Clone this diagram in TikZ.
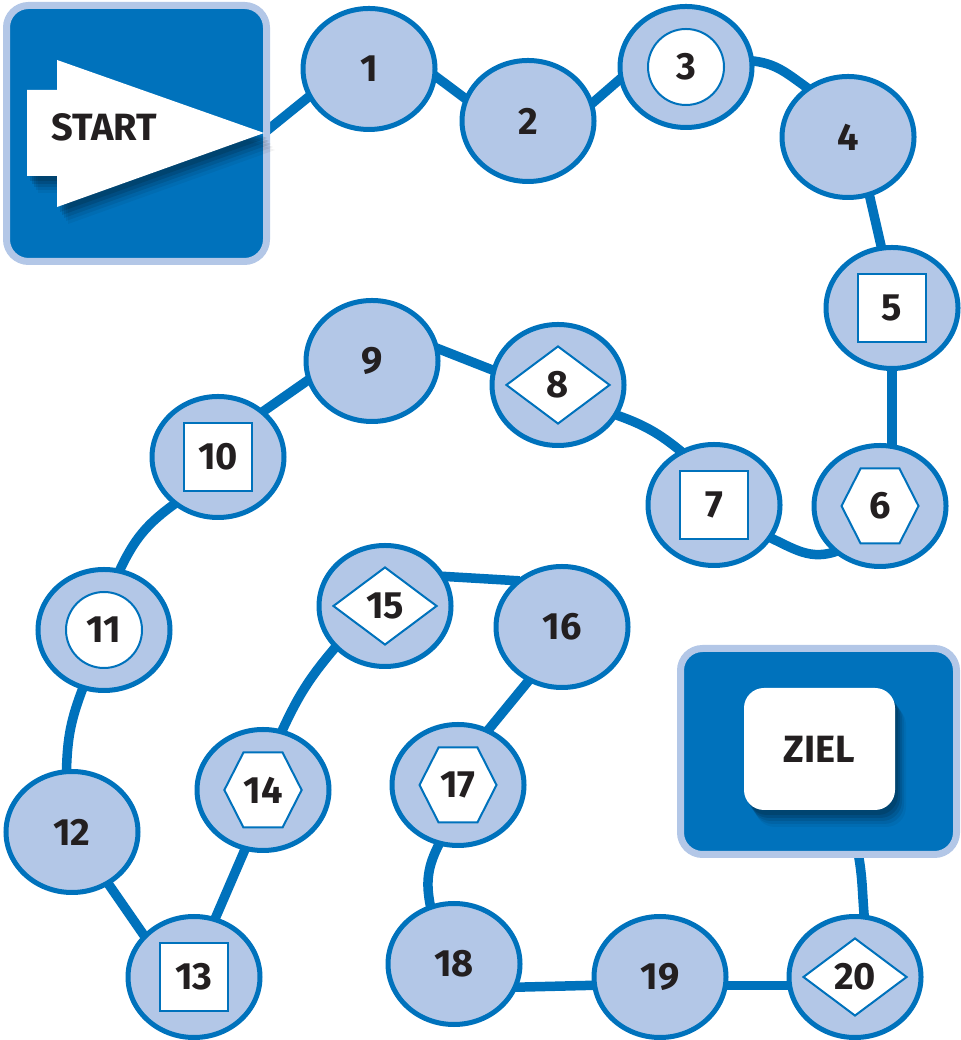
\documentclass[tikz,border=0pt]{standalone}
\usepackage{fontspec}
\setmainfont{Fira Sans}
\usepackage{tikz}
\usetikzlibrary{backgrounds,shapes.geometric,shapes.symbols,shadows}
\definecolor{boardblue}{RGB}{0,114,188}
\definecolor{fieldblue}{RGB}{179,199,231}
\definecolor{numdark}{RGB}{35,31,32}
\tikzset{
  track/.style={draw=boardblue, line width=9.5pt,
                shorten <=-4pt, shorten >=-4pt},
  field/.style={ellipse, draw=boardblue, line width=5pt, fill=fieldblue,
                minimum width=132pt, minimum height=121pt, inner sep=0pt,
                font=\fontsize{38}{42}\selectfont\bfseries, text=numdark},
  num/.style={font=\fontsize{38}{42}\selectfont\bfseries, text=numdark},
  markbase/.style={num, draw=boardblue, line width=2pt, fill=white,
                   inner sep=0pt},
  markcircle/.style={markbase, circle, minimum size=76pt},
  marksquare/.style={markbase, rectangle, minimum size=68pt},
  markhex/.style={markbase, signal, signal to=west and east,
                  signal pointer angle=126,
                  minimum width=77pt, minimum height=75pt},
  markdiamond/.style={markbase, diamond, aspect=1.33,
                      minimum width=104pt, minimum height=78pt},
  board/.style={draw=fieldblue, line width=7pt, fill=boardblue,
                rounded corners=22pt},
  softshadow/.style={
    drop shadow={shadow xshift=3pt, shadow yshift=-5pt, fill=black, opacity=0.12},
    drop shadow={shadow xshift=5pt, shadow yshift=-8pt, fill=black, opacity=0.12},
    drop shadow={shadow xshift=7pt, shadow yshift=-11pt, fill=black, opacity=0.10},
    drop shadow={shadow xshift=9pt, shadow yshift=-14pt, fill=black, opacity=0.07},
    drop shadow={shadow xshift=11pt, shadow yshift=-17pt, fill=black, opacity=0.05}},
}

\begin{document}
\begin{tikzpicture}[x=1pt,y=1pt]
  \path[use as bounding box] (0,0) rectangle (960,1040);

  % start and goal
  \node[board, minimum width=260pt, minimum height=256pt] (startbox)
    at (136.5,906.5) {};
  \fill[white, softshadow] (27,950) -- (57,950) -- (57,980) -- (264,907)
    -- (57,833) -- (57,864) -- (27,864) -- cycle;
  \coordinate (starttip) at (264,907);
  \node[num] (starttext) at (104,913) {START};

  \node[board, minimum width=276pt, minimum height=206pt] (ziel)
    at (818.5,288.5) {};
  \node[num, fill=white, rounded corners=20pt, minimum width=151pt,
        minimum height=122pt, softshadow] (zielcard) at (819.5,291) {ZIEL};

  % the fields along the track
  \node[field] (f1) at (369,971) {1};
  \node[field] (f2) at (528,919) {2};
  \node[field] (f3) at (686,973) {};
  \node[markcircle] (m3) at (f3) {3};
  \node[field] (f4) at (848,903) {4};
  \node[field] (f5) at (892,732) {};
  \node[marksquare] (m5) at (f5) {5};
  \node[field] (f6) at (880,534) {};
  \node[markhex] (m6) at (f6) {6};
  \node[field] (f7) at (714,535) {};
  \node[marksquare] (m7) at (f7) {7};
  \node[field] (f8) at (558,655) {};
  \node[markdiamond] (m8) at (f8) {8};
  \node[field] (f9) at (372,679) {9};
  \node[field] (f10) at (218,583) {};
  \node[marksquare] (m10) at (f10) {10};
  \node[field] (f11) at (104,410) {};
  \node[markcircle] (m11) at (f11) {11};
  \node[field] (f12) at (72,208) {12};
  \node[field] (f13) at (194,63) {};
  \node[marksquare] (m13) at (f13) {13};
  \node[field] (f14) at (263,250) {};
  \node[markhex] (m14) at (f14) {14};
  \node[field] (f15) at (385,434) {};
  \node[markdiamond] (m15) at (f15) {15};
  \node[field] (f16) at (562,413) {16};
  \node[field] (f17) at (458,255) {};
  \node[markhex] (m17) at (f17) {17};
  \node[field] (f18) at (454,76) {18};
  \node[field] (f19) at (660,63) {19};
  \node[field] (f20) at (855,63) {};
  \node[markdiamond] (m20) at (f20) {20};

  % track behind the fields
  \begin{pgfonlayer}{background}
    \draw[track] (starttip) -- (f1.205);
    \draw[track] (f1.-7) -- (f2.160);
    \draw[track] (f2.16) -- (f3.191);
    \draw[track] (f3.5) to[out=-5,in=145] (f4.130);
    \draw[track] (f4.-70) -- (f5.100);
    \draw[track] (f5.south) -- (f5.south |- f6.north);
    \draw[track] (f6.225) to[out=200,in=-25] (f7.-30);
    \draw[track] (f7.122) to[bend right=10] (f8.-27);
    \draw[track] (f8.167) -- (f9.10);
    \draw[track] (f9.197) -- (f10.45);
    \draw[track] (f10.227) to[bend right=15] (f11.75);
    \draw[track] (f11.250) to[bend right=10] (f12.95);
    \draw[track] (f12.-55) -- (f13.140);
    \draw[track] (f13.70) -- (f14.253);
    \draw[track] (f14.72) to[bend left=8] (f15.220);
    \draw[track] (f15.26) -- (f16.135);
    \draw[track] (f16.238) -- (f17.61);
    \draw[track] (f17.252) to[bend right=20] (f18.112);
    \draw[track] (f18.-20) -- (f19.187);
    \draw[track] (f19.-7) -- (f20.187);
    \draw[track] ([xshift=4pt]ziel.south -| f20.north) to[out=-80,in=95]
      ([xshift=9pt]f20.north);
  \end{pgfonlayer}
\end{tikzpicture}
\end{document}
